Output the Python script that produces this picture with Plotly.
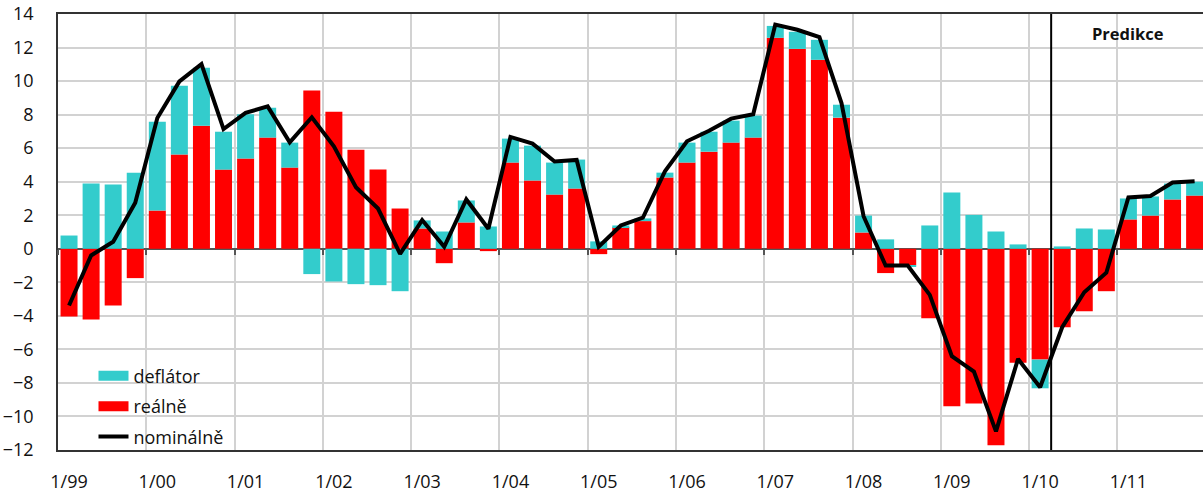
import plotly.graph_objects as go

# ---- data ----
quarter_index = list(range(52))  # 1999Q1 .. 2011Q4
tick_labels = ["1/99", "1/00", "1/01", "1/02", "1/03", "1/04", "1/05",
               "1/06", "1/07", "1/08", "1/09", "1/10", "1/11"]
tick_positions = [0, 4, 8, 12, 16, 20, 24, 28, 32, 36, 40, 44, 48]

real = [-4.04, -4.22, -3.38, -1.75, 2.28, 5.62, 7.34, 4.72, 5.38, 6.63, 4.84, 9.44,
        8.17, 5.91, 4.72, 2.40, 1.21, -0.86, 1.57, -0.14, 5.14, 4.07, 3.23, 3.59,
        -0.32, 1.29, 1.65, 4.25, 5.14, 5.79, 6.33, 6.63, 12.58, 11.92, 11.27, 7.82,
        0.97, -1.45, -0.98, -4.14, -9.39, -9.23, -11.72, -6.79, -6.61, -4.68, -3.72, -2.53,
        1.75, 1.98, 2.94, 3.17]
deflator = [0.79, 3.89, 3.83, 4.54, 5.30, 4.10, 3.45, 2.26, 2.64, 1.78, 1.49, -1.51,
            -1.95, -2.11, -2.17, -2.53, 0.48, 1.03, 1.31, 1.33, 1.43, 2.08, 1.91, 1.73,
            0.44, 0.10, 0.16, 0.29, 1.19, 1.19, 1.31, 1.31, 0.71, 1.02, 1.19, 0.77,
            1.01, 0.56, -0.08, 1.39, 3.35, 2.02, 1.03, 0.26, -1.71, 0.14, 1.21, 1.15,
            1.25, 1.14, 0.95, 0.83]
nominal = [-3.38, -0.40, 0.42, 2.74, 7.80, 9.98, 11.01, 7.14, 8.10, 8.49, 6.35, 7.84,
           6.11, 3.67, 2.40, -0.30, 1.71, 0.12, 2.94, 1.19, 6.67, 6.27, 5.20, 5.30,
           0.12, 1.39, 1.85, 4.62, 6.41, 7.04, 7.76, 8.02, 13.37, 13.06, 12.62, 8.69,
           1.94, -1.00, -1.00, -2.75, -6.41, -7.32, -10.89, -6.57, -8.26, -4.68, -2.59, -1.43,
           3.06, 3.15, 3.95, 4.03]
forecast_start = 45  # 2010Q2
y_min, y_max = -12, 14

FONT = "Open Sans"
TXT = "#111111"
RED = "#FF0000"
CYAN = "#33CCCC"
GRID = "#d2d2d2"
AXIS = "#333333"

fig = go.Figure()
fig.add_trace(go.Bar(x=quarter_index, y=real, name="reálně", marker_color=RED,
                     marker_line_width=0, showlegend=False))
fig.add_trace(go.Bar(x=quarter_index, y=deflator, name="deflátor", marker_color=CYAN,
                     marker_line_width=0, showlegend=False))
fig.add_trace(go.Scatter(x=quarter_index, y=nominal, name="nominálně", mode="lines",
                         line=dict(color="black", width=4), legendrank=3, legendgroup="n"))
# legend swatches (Excel-style wide rectangles)
fig.add_trace(go.Scatter(x=[None], y=[None], name="deflátor", mode="lines",
                         line=dict(color=CYAN, width=13), legendrank=1, legendgroup="d"))
fig.add_trace(go.Scatter(x=[None], y=[None], name="reálně", mode="lines",
                         line=dict(color=RED, width=13), legendrank=2, legendgroup="r"))
# helper axis for tick marks on the zero line
fig.add_trace(go.Scatter(x=[None], y=[None], xaxis="x2", showlegend=False, hoverinfo="skip"))

x_range = [-0.5, 51.38]
fig.update_layout(
    width=1203, height=496,
    margin=dict(l=58, r=0, t=14, b=46, autoexpand=False),
    plot_bgcolor="white", paper_bgcolor="white",
    barmode="relative", bargap=0.23,
    font=dict(family=FONT, size=18, color=TXT),
    showlegend=True,
    legend=dict(x=0.031, y=0.212, xanchor="left", yanchor="top",
                bgcolor="rgba(0,0,0,0)", font=dict(size=18, family=FONT, color=TXT),
                traceorder="grouped", tracegroupgap=4, itemwidth=30),
    xaxis=dict(range=x_range, tickvals=tick_positions, ticktext=tick_labels,
               showgrid=False, showline=True, mirror=True, linecolor=AXIS, linewidth=1.5,
               ticks="", ticklabelstandoff=15, zeroline=False, automargin=False,
               minor=dict(tick0=-0.5, dtick=4, showgrid=True, gridcolor=GRID, gridwidth=1.5)),
    xaxis2=dict(range=x_range, overlaying="x", anchor="free",
                position=(0 - y_min) / (y_max - y_min), side="bottom",
                tickvals=[p - 0.5 for p in tick_positions], ticks="outside", ticklen=5,
                tickcolor="#555555", tickwidth=1.5, showticklabels=False, automargin=False,
                showgrid=False, showline=False, zeroline=False),
    yaxis=dict(range=[y_min, y_max], dtick=2, showgrid=True, gridcolor=GRID, gridwidth=1.5,
               showline=True, mirror=True, linecolor=AXIS, linewidth=1.5,
               zeroline=True, zerolinecolor="#555555", zerolinewidth=1.5,
               ticks="", ticklabelstandoff=19, automargin=False),
    shapes=[
        dict(type="rect", xref="paper", yref="paper", x0=0.002, x1=0.168, y0=0.003, y1=0.21,
             fillcolor="white", line_width=0, layer="between"),
        dict(type="line", xref="x", yref="paper", x0=forecast_start - 0.5, x1=forecast_start - 0.5,
             y0=0, y1=1, line=dict(color="black", width=2)),
    ],
    annotations=[dict(text="<b>Predikce</b>", x=forecast_start + 3, xref="x", y=0.955, yref="paper",
                      xanchor="center", yanchor="middle",
                      showarrow=False, font=dict(size=16.5, family=FONT, color=TXT))],
)

fig.write_html("out.html", config={"displayModeBar": False},
               post_script="document.body.style.margin='0';document.body.style.overflow='hidden';")
